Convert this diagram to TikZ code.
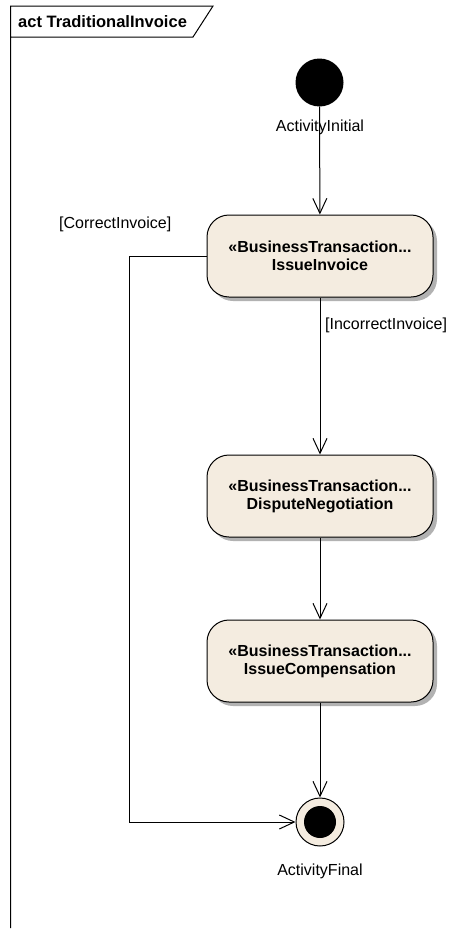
\documentclass[tikz,border=0pt]{standalone}
\usepackage{fontspec}
\setmainfont{Liberation Sans}
\usetikzlibrary{arrows.meta,shadows}

\definecolor{actfill}{RGB}{244,236,224}

\tikzset{
  action/.style={draw, line width=1pt, rounded corners=22pt, fill=actfill,
    minimum width=226pt, minimum height=82pt, align=center,
    font=\fontsize{16}{18}\selectfont\bfseries,
    drop shadow={shadow xshift=4pt, shadow yshift=-4pt, fill=black!30, opacity=1}},
  flow/.style={line width=1pt, -{Straight Barb[length=15pt,width=14pt,line width=1pt]}},
  guard/.style={inner sep=0pt, font=\fontsize{16}{18}\selectfont},
}

\begin{document}
\begin{tikzpicture}[x=1pt,y=1pt,yscale=-1,xscale=1]
\useasboundingbox (0,0) rectangle (463,929);

%Shape: Frame
\draw[line width=1pt] (10.5,928) -- (10.5,6) -- (213,6) -- (193,37) -- (10.5,37);
% Text Node
\node (title) [anchor=base west, inner sep=0pt, font=\fontsize{16.5}{18}\selectfont\bfseries] at (18,27.5) {act TraditionalInvoice};

%Shape: Circle
\node (init) [circle, fill=black, minimum size=48pt, inner sep=0pt] at (319.5,82.5) {};
% Text Node
\node (initlbl) [guard, anchor=base] at (320,131) {ActivityInitial};

%Shape: Rounded Rect
\node (invoice) [action] at (320,256) {«BusinessTransaction...\\IssueInvoice};
%Shape: Rounded Rect
\node (dispute) [action] at (320,496) {«BusinessTransaction...\\DisputeNegotiation};
%Shape: Rounded Rect
\node (compensation) [action] at (320,661) {«BusinessTransaction...\\IssueCompensation};

%Shape: Circle
\node (final) [circle, draw, line width=1pt, fill=actfill, minimum size=48pt, inner sep=0pt] at (320,822) {};
\node (finaldot) [circle, fill=black, minimum size=32pt, inner sep=0pt] at (final) {};
% Text Node
\node (finallbl) [guard, anchor=base] at (320,875.5) {ActivityFinal};

%Straight Lines
\draw[flow] (init) -- (invoice);
\draw[flow] (invoice) -- (dispute);
\draw[flow] (dispute) -- (compensation);
\draw[flow] (compensation) -- (final);
\draw[flow] (invoice.west) -- ++(-77,0) |- (final);

% Text Node
\node (incorrect) [guard, anchor=base west] at (325,329) {[IncorrectInvoice]};
% Text Node
\node (correct) [guard, anchor=base west] at (59,228) {[CorrectInvoice]};

\end{tikzpicture}
\end{document}
